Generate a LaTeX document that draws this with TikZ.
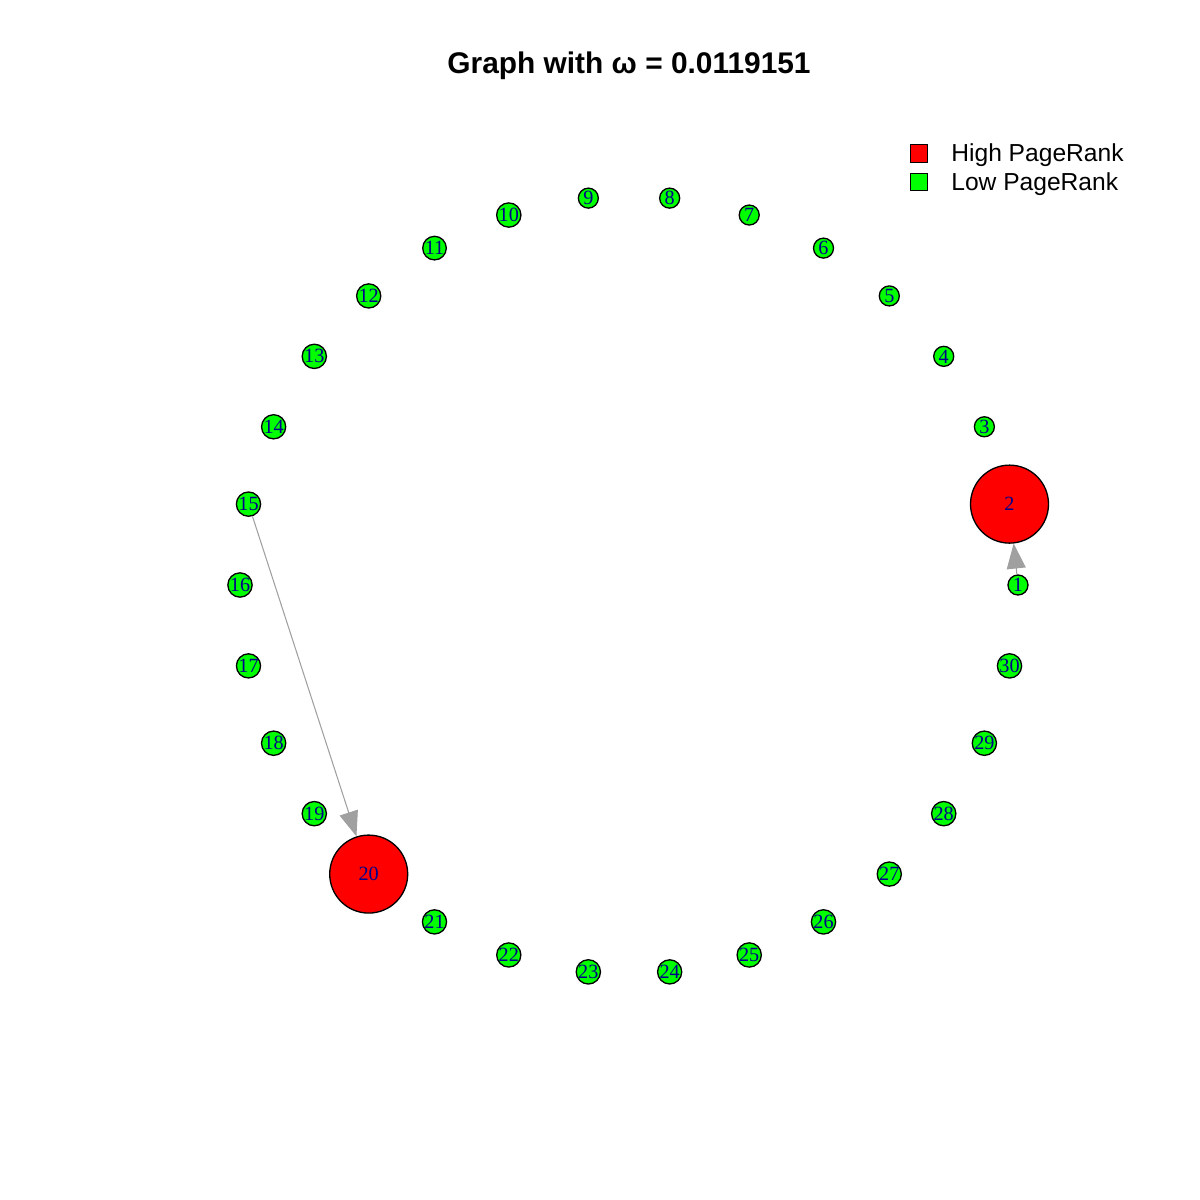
\documentclass[tikz,border=0pt]{standalone}
\usepackage{fontspec}
\setmainfont{Liberation Serif}
\newfontfamily\arialfont{Liberation Sans}
\usetikzlibrary{arrows.meta}
\definecolor{edgegray}{HTML}{A0A0A0}
\definecolor{labelblue}{HTML}{00008B}
\definecolor{lowgreen}{HTML}{00FF00}
\definecolor{highred}{HTML}{FF0000}
\tikzset{
  lowpr/.style={circle,draw=black,line width=0.75pt,fill=lowgreen,minimum size=0.4cm,inner sep=0pt,text=labelblue,font=\fontsize{11.5}{12}\selectfont},
  highpr/.style={circle,draw=black,line width=0.75pt,fill=highred,minimum size=1.56cm,inner sep=0pt,text=labelblue,font=\fontsize{11.5}{12}\selectfont},
  edge/.style={draw=edgegray,line width=0.6pt,-{Triangle[length=0.5cm,width=0.38cm]}},
  legbox/.style={draw=black,line width=0.75pt,minimum size=0.35cm,inner sep=0pt},
  legtext/.style={anchor=base west,inner sep=0pt,font=\arialfont\fontsize{14}{16}\selectfont}
}
\begin{document}
\begin{tikzpicture}[x=0.02cm,y=-0.02cm]
            \useasboundingbox (0,0) rectangle (1200,1200);
            \node[anchor=base,font=\arialfont\bfseries\fontsize{17}{20}\selectfont] (title) at (629,73) {Graph with ω = 0.0119151};
            \foreach \i in {1,3,4,...,19,21,22,...,30}
                \node[lowpr] (v\i) at ({629+389*cos((\i-1)*12)},{585-389*sin((\i-1)*12)}) {\i};
            \foreach \i in {2,20}
                \node[highpr] (v\i) at ({629+389*cos((\i-1)*12)},{585-389*sin((\i-1)*12)}) {\i};
            \draw[edge] (v15) -- (v20);
            \draw[edge] (v1) -- (v2);
            \node[legbox,fill=highred] (boxhigh) at (919,153.5) {};
            \node[legbox,fill=lowgreen] (boxlow) at (919,182) {};
            \node[legtext] (texthigh) at (951,161) {High PageRank};
            \node[legtext] (textlow) at (951,190) {Low PageRank};
\end{tikzpicture}
\end{document}
